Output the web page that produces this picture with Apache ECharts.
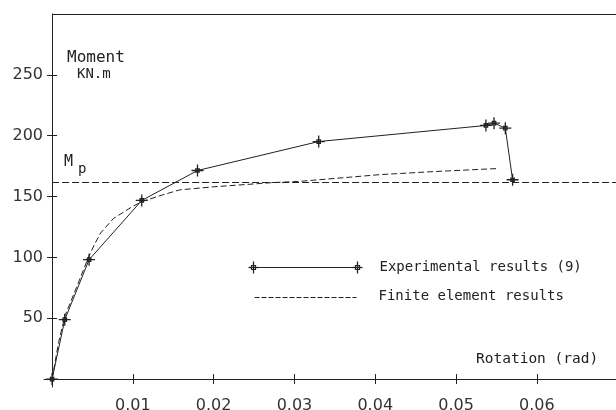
<!DOCTYPE html>
<html>
<head>
<meta charset="utf-8">
<script src="https://cdn.jsdelivr.net/npm/echarts@6/dist/echarts.min.js"></script>
<style>
  html, body { margin: 0; padding: 0; background: #fff; }
  #chart { width: 616px; height: 410px; }
</style>
</head>
<body>
<div id="chart"></div>
<script>
// Moment–rotation response of the connection
const xTickValues = [0.01, 0.02, 0.03, 0.04, 0.05, 0.06];
const yTickValues = [50, 100, 150, 200, 250];

// Experimental results (9)
const expRotation = [0, 0.00157, 0.00458, 0.0111, 0.0180, 0.0330, 0.0537, 0.0547, 0.0561, 0.0570];
const expMoment   = [0, 48.8, 98.1, 146.8, 171.4, 195.2, 208.4, 210.3, 206.2, 163.8];

// Finite element results
const feRotation = [0, 0.0008, 0.0016, 0.0030, 0.0045, 0.0052, 0.0060, 0.0076, 0.0100, 0.0112, 0.0135, 0.0158, 0.0200, 0.0274, 0.0307, 0.0406, 0.0472, 0.0551];
const feMoment   = [0, 30, 52, 75, 100, 110, 120, 132, 142, 146, 151, 155.5, 158, 161.5, 162.5, 168, 170.5, 173];

// Plastic moment Mp
const mpValue = 162;

const xMin = -0.001, xMax = 0.0698;
const yMin = -6.5, yMax = 300;

const ink = '#222';
const monoFont = 'DejaVu Sans Mono';
const crossPath = 'M6,0 L6,12 M0,6 L12,6 M4.3,4.3 L7.7,4.3 L7.7,7.7 L4.3,7.7 Z';

const zip = (xs, ys) => xs.map((x, i) => [x, ys[i]]);

// legend marker: cross with a small square at its centre
function legendCross(cx, cy) {
  return [
    { type: 'line', shape: { x1: cx, y1: cy - 6, x2: cx, y2: cy + 6 }, style: { stroke: ink, lineWidth: 1.3 } },
    { type: 'line', shape: { x1: cx - 5, y1: cy, x2: cx + 5, y2: cy }, style: { stroke: ink, lineWidth: 1.3 } },
    { type: 'rect', shape: { x: cx - 2, y: cy - 2, width: 4, height: 4 }, style: { stroke: ink, fill: 'none', lineWidth: 1.2 } }
  ];
}

const chart = echarts.init(document.getElementById('chart'), null, { renderer: 'canvas' });

const tickCommon = { lineStyle: { color: ink, width: 1 }, length: 5 };
const hiddenLine = { show: true, onZero: true, onZeroAxisIndex: 1, lineStyle: { color: 'rgba(0,0,0,0)', width: 1 } };

const option = {
  animation: false,
  backgroundColor: '#fff',
  grid: { left: 44, right: 0, top: 14, bottom: 23, containLabel: false, outerBoundsMode: 'none' },
  xAxis: [
    {
      type: 'value', min: xMin, max: xMax, position: 'bottom',
      axisLine: { show: true, onZero: true, onZeroAxisIndex: 0, lineStyle: { color: ink, width: 1 } },
      axisTick: Object.assign({ show: true, inside: false, customValues: xTickValues }, tickCommon),
      axisLabel: {
        show: true, customValues: xTickValues, margin: 11,
        formatter: v => v.toFixed(2),
        fontFamily: 'DejaVu Sans', fontSize: 16, color: '#333'
      },
      splitLine: { show: false }
    },
    {
      type: 'value', min: xMin, max: xMax, position: 'bottom',
      axisLine: hiddenLine,
      axisTick: Object.assign({ show: true, inside: true, customValues: xTickValues }, tickCommon),
      axisLabel: { show: false },
      splitLine: { show: false }
    }
  ],
  yAxis: [
    {
      type: 'value', min: yMin, max: yMax, position: 'left',
      axisLine: { show: true, onZero: true, onZeroAxisIndex: 0, lineStyle: { color: ink, width: 1 } },
      axisTick: Object.assign({ show: true, inside: false, customValues: yTickValues }, tickCommon),
      axisLabel: {
        show: true, customValues: yTickValues, margin: 1,
        fontFamily: 'DejaVu Sans', fontSize: 16, color: '#333'
      },
      splitLine: { show: false }
    },
    {
      type: 'value', min: yMin, max: yMax, position: 'left',
      axisLine: hiddenLine,
      axisTick: Object.assign({ show: true, inside: true, customValues: yTickValues }, tickCommon),
      axisLabel: { show: false },
      splitLine: { show: false }
    }
  ],
  series: [
    {
      name: 'Finite element results',
      type: 'line',
      data: zip(feRotation, feMoment),
      showSymbol: false,
      symbol: 'none',
      lineStyle: { color: ink, width: 1, type: [6, 3] },
      emphasis: { disabled: true },
      silent: true,
      z: 2,
      markLine: {
        silent: true,
        symbol: ['none', 'none'],
        label: { show: false },
        emphasis: { disabled: true },
        data: [
          // Mp reference line
          [
            { coord: [0, mpValue], lineStyle: { color: ink, width: 1, type: [7, 3] } },
            { coord: [xMax, mpValue] }
          ],
          // upper frame
          [
            { coord: [0, yMax], lineStyle: { color: ink, width: 1, type: 'solid' } },
            { coord: [xMax, yMax] }
          ]
        ]
      }
    },
    {
      name: 'Experimental results (9)',
      type: 'line',
      data: zip(expRotation, expMoment),
      symbol: 'path://' + crossPath,
      symbolSize: 12,
      showAllSymbol: true,
      itemStyle: { color: 'rgba(0,0,0,0)', borderColor: ink, borderWidth: 1.3 },
      lineStyle: { color: ink, width: 1 },
      emphasis: { disabled: true },
      silent: true,
      z: 3
    }
  ],
  graphic: [
    { type: 'text', left: 67, top: 50, style: { text: 'Moment', fontFamily: monoFont, fontSize: 16, fill: ink } },
    { type: 'text', left: 77, top: 67, style: { text: 'KN.m', fontFamily: monoFont, fontSize: 14, fill: ink } },
    { type: 'text', left: 64, top: 155, style: { text: 'M', fontFamily: monoFont, fontSize: 15, fill: ink } },
    { type: 'text', left: 78, top: 162, style: { text: 'p', fontFamily: monoFont, fontSize: 14, fill: ink } },
    { type: 'text', left: 476, top: 352, style: { text: 'Rotation (rad)', fontFamily: monoFont, fontSize: 14.5, fill: ink } },
    // legend
    {
      type: 'group', left: 246, top: 259,
      children: [
        { type: 'line', shape: { x1: 6, y1: 6, x2: 110, y2: 6 }, style: { stroke: ink, lineWidth: 1.2 } },
        ...legendCross(6, 6),
        ...legendCross(110, 6),
        { type: 'line', shape: { x1: 7, y1: 36, x2: 109, y2: 36 }, style: { stroke: ink, lineWidth: 1, lineDash: [5, 2] } },
        { type: 'text', x: 132, y: -1, style: { text: 'Experimental results (9)', fontFamily: monoFont, fontSize: 14, fill: ink } },
        { type: 'text', x: 131, y: 28, style: { text: 'Finite element results', fontFamily: monoFont, fontSize: 14, fill: ink } }
      ]
    }
  ]
};

chart.setOption(option);
</script>
</body>
</html>
